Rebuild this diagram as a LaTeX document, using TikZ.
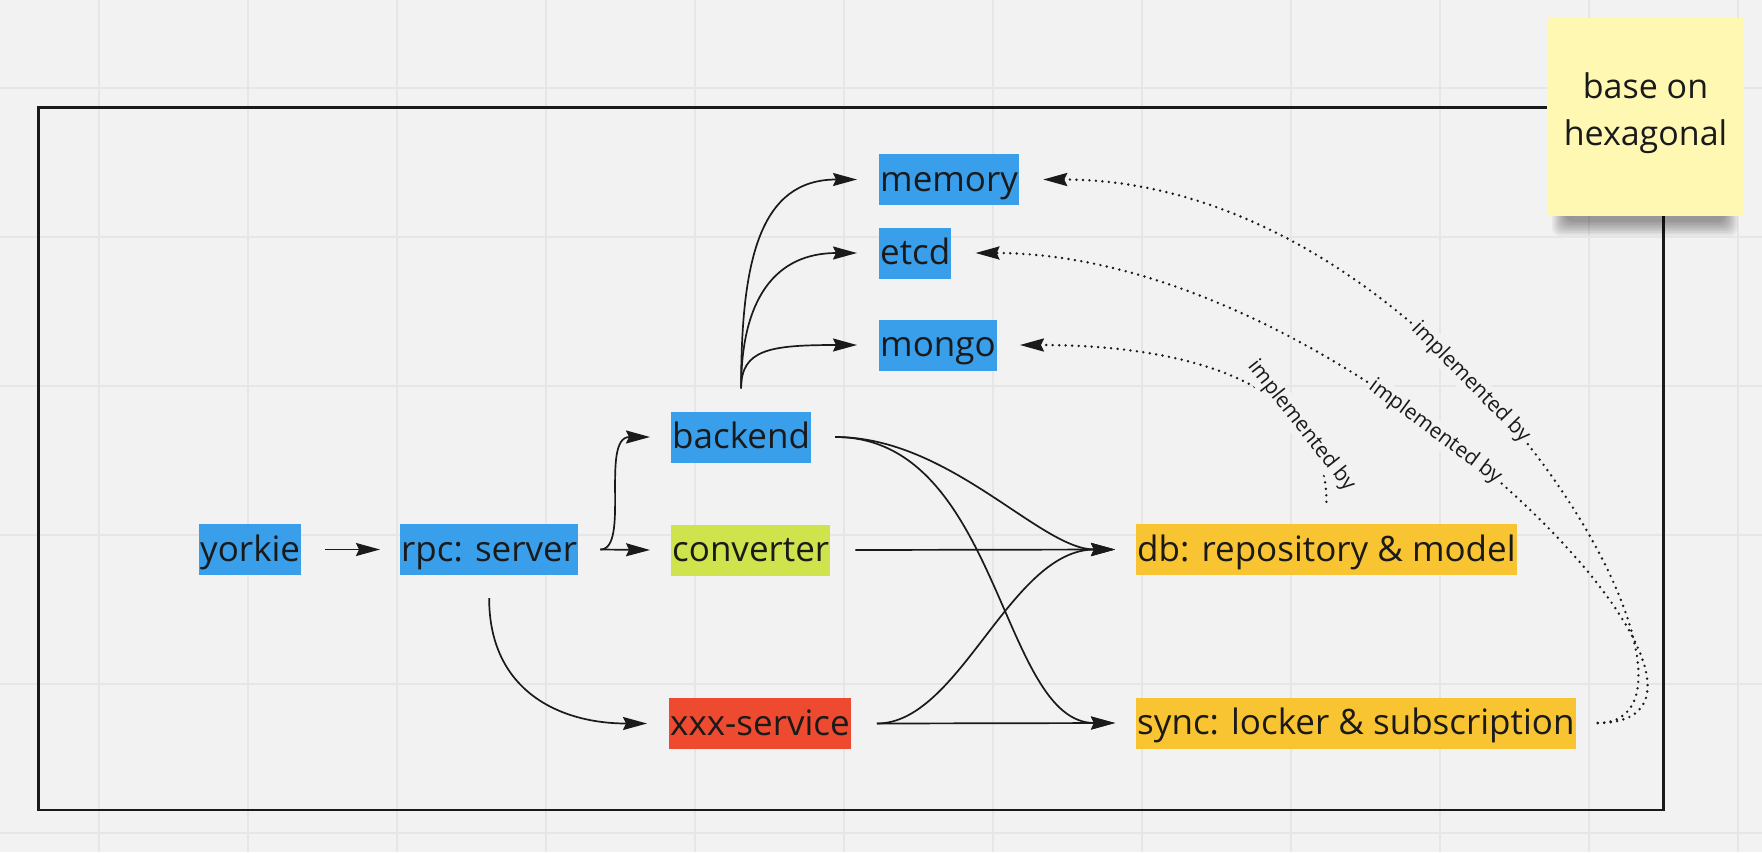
\documentclass[tikz,border=0pt]{standalone}
\usepackage{fontspec}
\setmainfont{Open Sans}
\usetikzlibrary{arrows.meta}
\definecolor{bg}{HTML}{F2F2F2}
\definecolor{gridc}{HTML}{E6E6E6}
\definecolor{mblue}{HTML}{3A9FEB}
\definecolor{mgreen}{HTML}{CFE34C}
\definecolor{mred}{HTML}{EE4A2F}
\definecolor{morange}{HTML}{F9C431}
\definecolor{ink}{HTML}{1A1A1A}
\definecolor{notec}{HTML}{FFF8B2}
\begin{document}
\begin{tikzpicture}[x=1pt,y=-1pt,
  box/.style={anchor=west, inner xsep=1pt, inner ysep=0pt, text height=37pt, text depth=14pt,
    font=\fontsize{35}{42}\selectfont, text=ink},
  arr/.style={line width=1.7pt, draw=ink, -{Stealth[length=24pt,width=13pt,inset=3pt]}},
  dots/.style={line width=2.7pt, draw=ink, dash pattern=on 0pt off 6.5pt, line cap=round,
    -{Stealth[length=24pt,width=13pt,inset=3pt]}},
  lab/.style={font=\fontsize{21}{24}\selectfont, text=ink, fill=bg, inner sep=2pt, sloped}]
\useasboundingbox (0,0) rectangle (1762,852);
\fill[bg] (0,0) rectangle (1762,852);
% grid
\foreach \gx in {0,...,11} \draw[gridc, line width=1.5pt] ({99+149*\gx},0) -- ({99+149*\gx},852);
\foreach \gy in {0,...,5} \draw[gridc, line width=1.5pt] (0,{88+149*\gy}) -- (1762,{88+149*\gy});
% frame
\draw[line width=2.6pt, draw=ink] (38.5,107.5) rectangle (1663.5,810);
% nodes
\node[box, fill=mblue] (yorkie) at (199,549.5) {yorkie};
\node[box, fill=mblue] (rpc) at (400,549.5) {rpc: server};
\node[box, fill=mblue] (backend) at (671,437) {backend};
\node[box, fill=mgreen] (converter) at (671,550) {converter};
\node[box, fill=mred] (xxx) at (669,723.5) {xxx-service};
\node[box, fill=mblue] (memory) at (879,179.5) {memory};
\node[box, fill=mblue] (etcd) at (879,253) {etcd};
\node[box, fill=mblue] (mongo) at (879,345) {mongo};
\node[box, fill=morange] (db) at (1136,549.5) {db: repository \& model};
\node[box, fill=morange] (sync) at (1136,723) {sync: locker \& subscription};
\coordinate (bktop) at ([yshift=23pt]backend.north);
% solid connectors
\draw[arr] ([xshift=24pt]yorkie.east) -- ([xshift=-20pt]rpc.west);
\draw[arr] ([xshift=22pt]rpc.east) -- ([xshift=-21pt]converter.west);
\draw[arr] ([xshift=22pt]rpc.east) .. controls +(30,0) and +(-50,0) .. ([xshift=-21pt]backend.west);
\draw[arr] ([yshift=-23pt]rpc.south) .. controls +(0,93) and +(-87,0) .. ([xshift=-22pt]xxx.west);
\draw[arr] (bktop) .. controls +(0,-129) and +(-97,0) .. ([xshift=-22pt]memory.west);
\draw[arr] (bktop) .. controls +(0,-89) and +(-82,0) .. ([xshift=-22pt]etcd.west);
\draw[arr] (bktop) .. controls +(0,-39) and +(-87,0) .. ([xshift=-22pt]mongo.west);
\draw[arr] ([xshift=24pt]backend.east) .. controls +(115,0) and +(-75,0) .. ([xshift=-21pt]db.west);
\draw[arr] ([xshift=24pt]backend.east) .. controls +(165,0) and +(-115,0) .. ([xshift=-21pt]sync.west);
\draw[arr] ([xshift=25pt]converter.east) -- ([xshift=-21pt]db.west);
\draw[arr] ([xshift=26pt]xxx.east) .. controls +(83,0) and +(-105,0) .. ([xshift=-21pt]db.west);
\draw[arr] ([xshift=26pt]xxx.east) -- ([xshift=-21pt]sync.west);
% dotted connectors
\draw[dots] ([yshift=22pt]db.north) .. controls +(0,-122) and +(161,0) .. ([xshift=23pt]mongo.east)
  node[lab, pos=0.25] {implemented by};
\draw[dots] ([xshift=22pt]sync.east) .. controls +(200,0) and +(380,0) .. ([xshift=24pt]etcd.east)
  node[lab, pos=0.58] {implemented by};
\draw[dots] ([xshift=22pt]sync.east) .. controls +(153,0) and +(408,0) .. ([xshift=24pt]memory.east)
  node[lab, pos=0.585] {implemented by};
% sticky note shadow
\foreach \k in {0,...,9}
  \fill[black, opacity=0.045, rounded corners=8pt] ({1552+\k*1.5},150) rectangle ({1738-\k*1.5},{236-\k*1.6});
% sticky note
\node[fill=notec, minimum width=197pt, minimum height=198pt, inner sep=0pt] (note) at (1645.5,117) {};
\node[align=center, font=\fontsize{34}{47}\selectfont, text=ink] (notetext) at ([yshift=3.5pt]note.center) {base on\\hexagonal};
\end{tikzpicture}
\end{document}
